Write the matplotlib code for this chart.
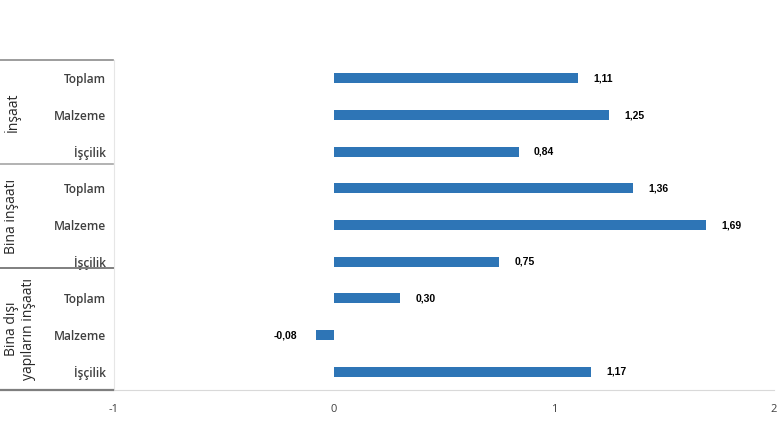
import numpy as np
import matplotlib
matplotlib.use("Agg")
import matplotlib.pyplot as plt
from matplotlib.lines import Line2D

categories = ["Toplam", "Malzeme", "İşçilik",
              "Toplam", "Malzeme", "İşçilik",
              "Toplam", "Malzeme", "İşçilik"]
values = [1.11, 1.25, 0.84, 1.36, 1.69, 0.75, 0.30, -0.08, 1.17]
groups = ["İnşaat", "Bina inşaatı", "Bina dışı\nyapıların inşaatı"]
xticks = [-1, 0, 1, 2]

W, H = 780, 440
fig = plt.figure(figsize=(W / 100, H / 100), dpi=100)
ax = fig.add_axes([114 / W, 1 - 390 / H, (774 - 114) / W, 330 / H])

ys = np.arange(len(values))
ax.barh(ys, values, height=0.27, color="#2E75B6")
ax.set_ylim(len(values) - 0.5, -0.5)
ax.set_xlim(-1, 2)

for y, v in zip(ys, values):
    lab = f"{v:.2f}".replace(".", ",")
    if v >= 0:
        ax.annotate(lab, (v, y), xytext=(11, 0), textcoords="offset points",
                    ha="left", va="center", fontsize=7.5, fontweight="bold",
                    family="Liberation Sans", color="black")
    else:
        ax.annotate(lab, (v, y), xytext=(-14, 0), textcoords="offset points",
                    ha="right", va="center", fontsize=7.5, fontweight="bold",
                    family="Liberation Sans", color="black")

ax.set_yticks(ys)
ax.set_yticklabels(categories, fontsize=8.6, fontweight="semibold",
                   family="Open Sans", color="#404040")
ax.tick_params(axis="y", length=0, pad=6)
ax.set_xticks(xticks)
ax.set_xticklabels([str(t) for t in xticks], fontsize=8, family="Open Sans",
                   color="#404040")
ax.tick_params(axis="x", length=0, pad=10)
for s in ("top", "right"):
    ax.spines[s].set_visible(False)
ax.spines["bottom"].set_color("#d9d9d9")
ax.spines["left"].set_color("#e6e6e6")
ax.spines["left"].set_linewidth(0.8)

# group separators on the left
for ypx, c, lw in [(60, "#8c8c8c", 1.2), (164, "#a6a6a6", 1.2),
                   (268, "#7f7f7f", 1.4), (390, "#7f7f7f", 1.6)]:
    fig.add_artist(Line2D([0, 113 / W], [1 - ypx / H] * 2, color=c, lw=lw))

for (cy, cx), g in zip([(112, 12), (216, 12), (329, 20)], groups):
    fig.text(cx / W, 1 - cy / H, g, rotation=90, ha="center", va="center",
             fontsize=10, family="Open Sans", color="#262626",
             multialignment="center", linespacing=1.1)

fig.savefig("out.png", dpi=100, facecolor="white")
